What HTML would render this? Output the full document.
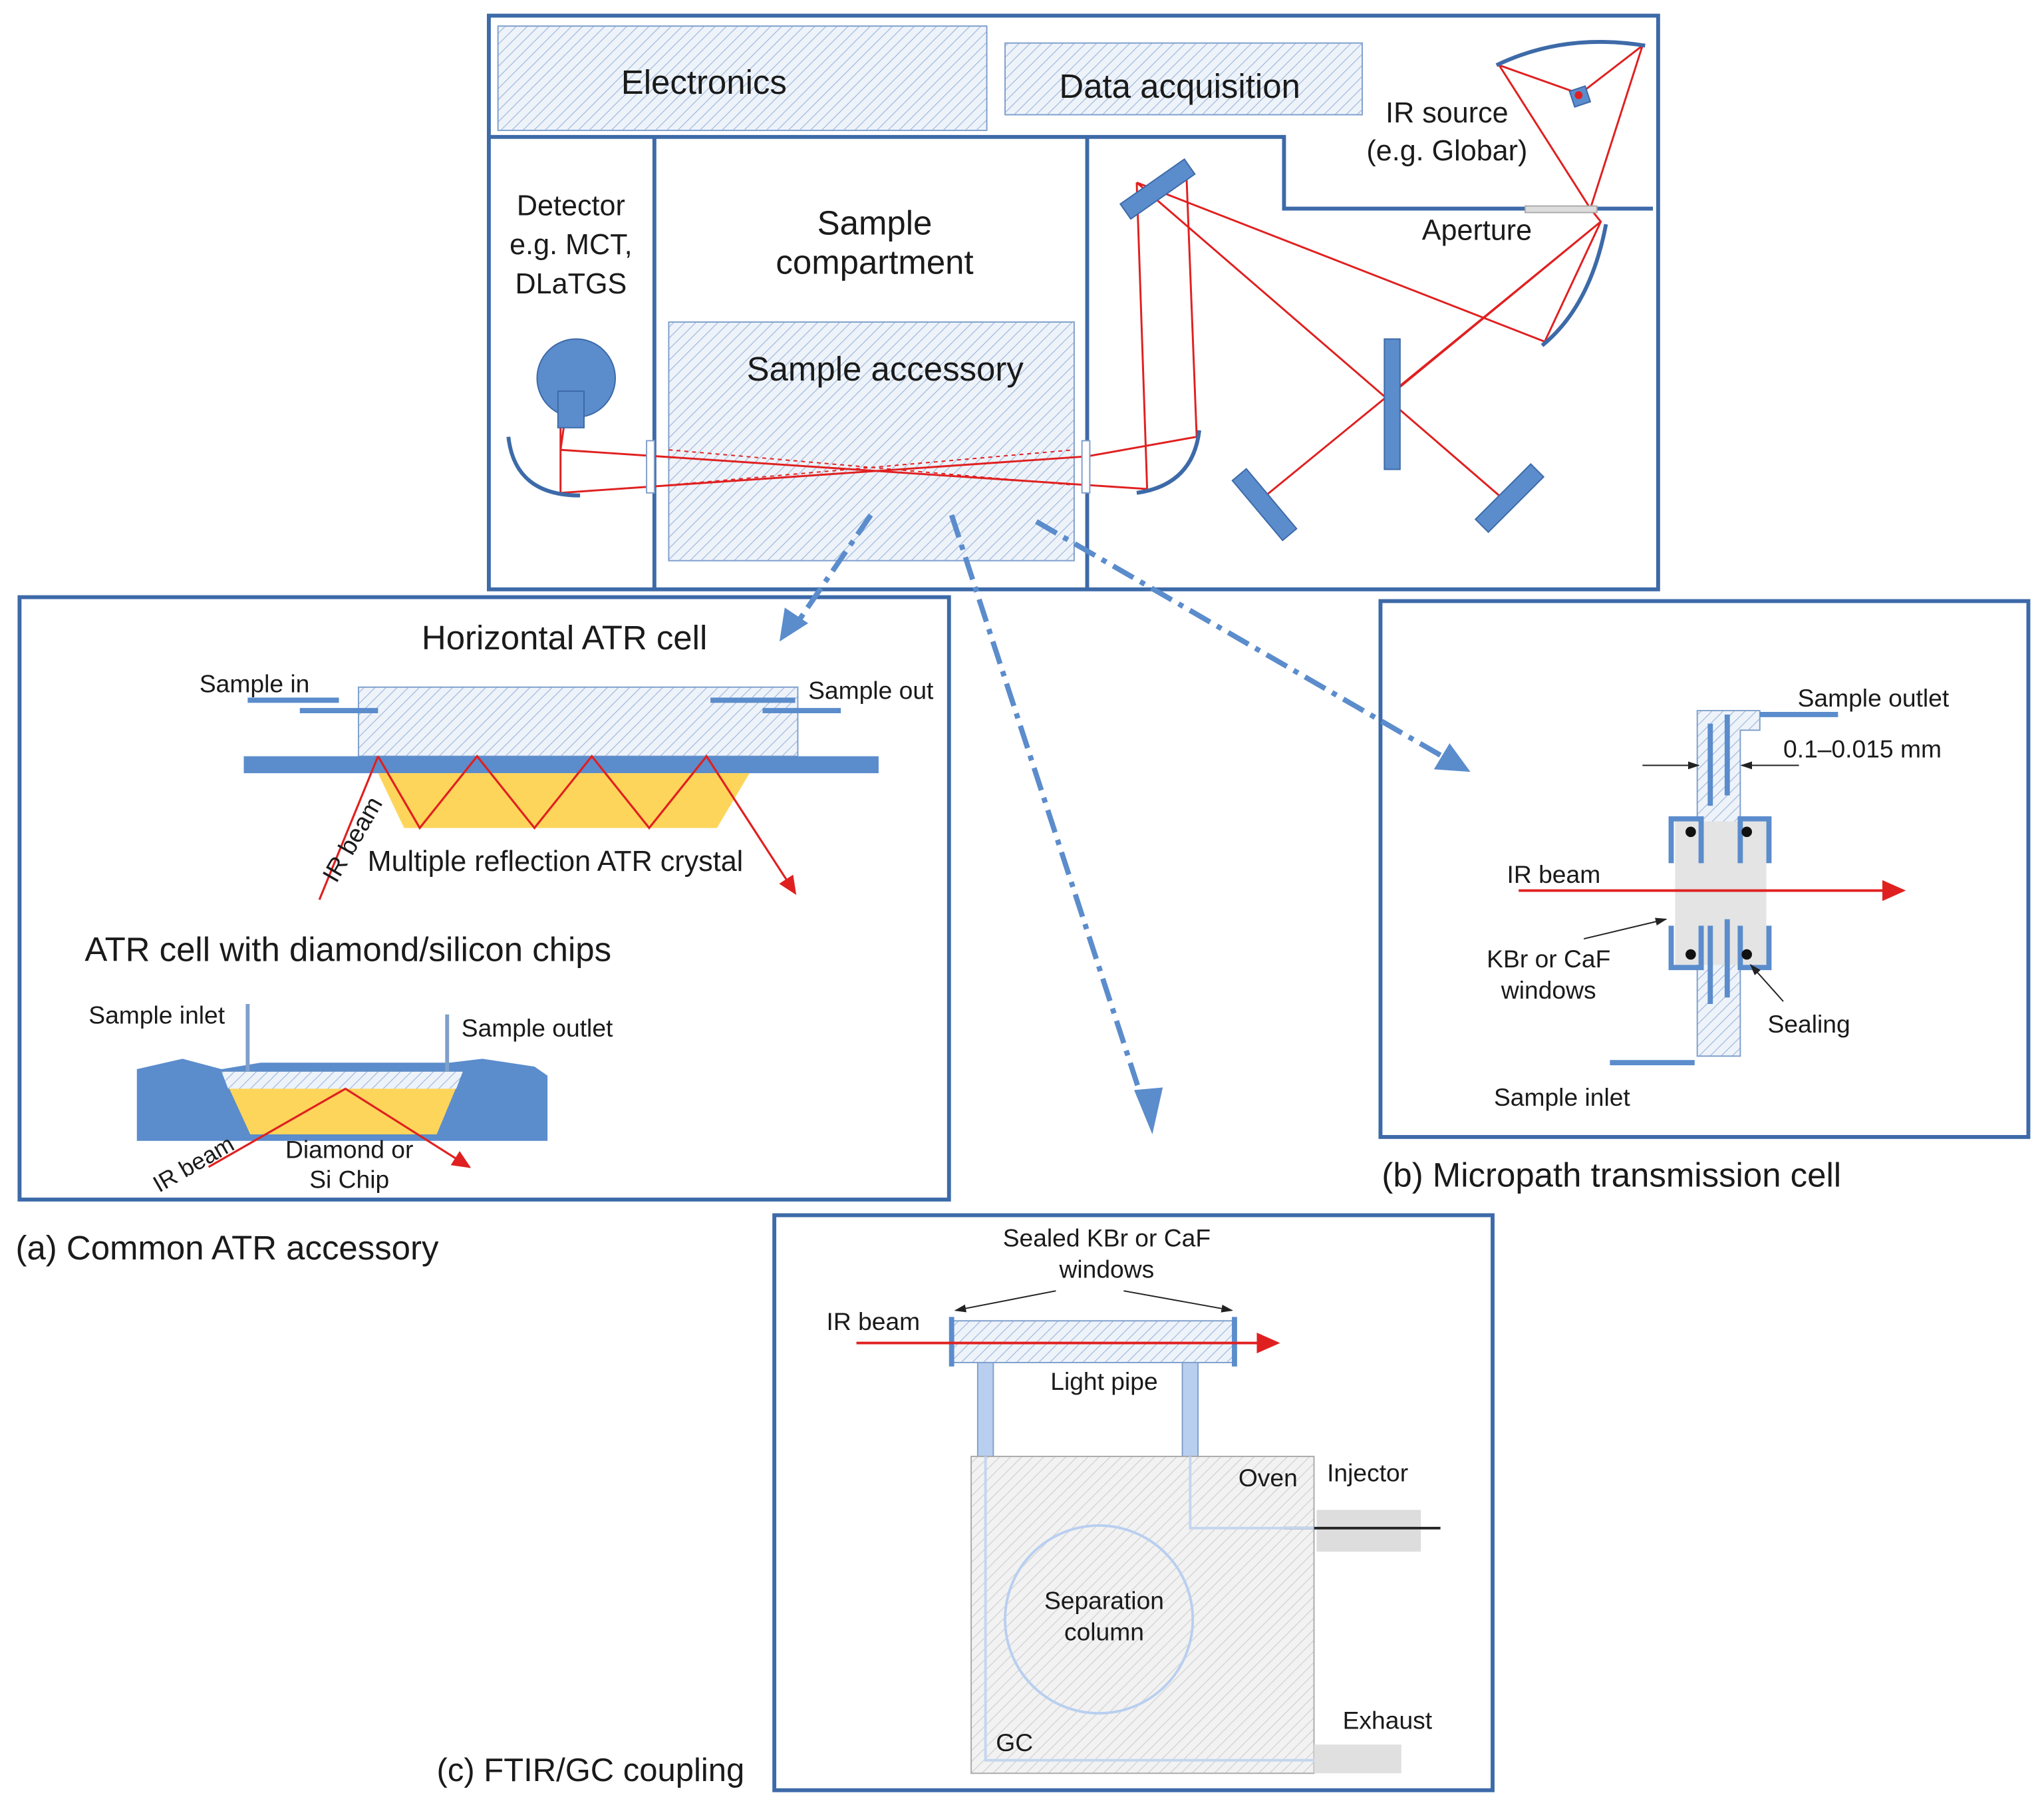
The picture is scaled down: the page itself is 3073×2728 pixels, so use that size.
<!DOCTYPE html>
<html><head><meta charset="utf-8"><style>
html,body{margin:0;padding:0;background:#fff}
svg{display:block}
text{font-family:"Liberation Sans",sans-serif;fill:#1a1a1a}
</style></head><body>
<svg width="3073" height="2728" viewBox="0 0 1568 1392" preserveAspectRatio="none" xmlns="http://www.w3.org/2000/svg">
<defs>
<pattern id="h" width="6" height="6" patternUnits="userSpaceOnUse" patternTransform="rotate(45)">
<rect width="6" height="6" fill="#eef3fa"/><line x1="0" y1="0" x2="0" y2="6" stroke="#9db8dc" stroke-width="1.2"/></pattern>
<pattern id="g" width="6" height="6" patternUnits="userSpaceOnUse" patternTransform="rotate(45)">
<rect width="6" height="6" fill="#f2f2f2"/><line x1="0" y1="0" x2="0" y2="6" stroke="#cfcfcf" stroke-width="1.2"/></pattern>
<marker id="ar" markerWidth="10" markerHeight="10" refX="8" refY="5" orient="auto"><path d="M0,1 L9,5 L0,9 Z" fill="#e02020"/></marker>
<marker id="ak" markerWidth="10" markerHeight="10" refX="8" refY="5" orient="auto"><path d="M0,2 L9,5 L0,8 Z" fill="#222"/></marker>
</defs>
<g stroke="#3d6aa8" stroke-width="3" fill="none">
<rect x="375" y="12" width="897" height="440"/>
<path d="M375,105 H985 V160 H1170 M1225,160 H1268"/>
<line x1="502" y1="105" x2="502" y2="452"/>
<line x1="834" y1="105" x2="834" y2="452"/>
<rect x="15" y="458" width="713" height="462"/>
<rect x="1059" y="461" width="497" height="411"/>
<rect x="594" y="932" width="551" height="441"/>
</g>
<rect x="382" y="20" width="375" height="80" fill="url(#h)" stroke="#7fa0cc"/>
<rect x="771" y="33" width="274" height="55" fill="url(#h)" stroke="#7fa0cc"/>
<rect x="513" y="247" width="311" height="183" fill="url(#h)" stroke="#7fa0cc"/>
<text x="540" y="72" font-size="26" text-anchor="middle">Electronics</text>
<text x="905" y="75" font-size="26" text-anchor="middle">Data acquisition</text>
<text x="1110" y="94" font-size="22" text-anchor="middle">IR source</text>
<text x="1110" y="123" font-size="22" text-anchor="middle">(e.g. Globar)</text>
<text x="1133" y="184" font-size="22" text-anchor="middle">Aperture</text>
<text x="438" y="165" font-size="22" text-anchor="middle">Detector</text>
<text x="438" y="195" font-size="22" text-anchor="middle">e.g. MCT,</text>
<text x="438" y="225" font-size="22" text-anchor="middle">DLaTGS</text>
<text x="671" y="180" font-size="26" text-anchor="middle">Sample</text>
<text x="671" y="210" font-size="26" text-anchor="middle">compartment</text>
<text x="679" y="292" font-size="26" text-anchor="middle">Sample accessory</text>
<!-- optics -->
<g stroke="#e02020" stroke-width="1.5" fill="none">
<path d="M1212,72 L1150,50 L1220,160 L1260,35 Z"/>
<path d="M1220,160 L1228,170 L1185,262 M1228,170 L965,385 M1185,262 L872,140 M872,140 L1150,380 M1228,170 L1070,300"/>
<path d="M872,140 L880,375 M910,130 L918,335 M918,335 L834,350 L430,378 M880,375 L834,372 L430,345"/>
<path d="M430,345 L435,310 M430,378 L430,320"/>
</g>
<g stroke="#e02020" stroke-width="1" stroke-dasharray="3,3" fill="none"><path d="M513,345 L824,372 M513,372 L824,345"/></g>
<g fill="#5b8ccc" stroke="#3d6aa8">
<rect x="858" y="138" width="60" height="14" transform="rotate(-35 888 145)"/>
<rect x="1062" y="260" width="12" height="100"/>
<rect x="940" y="380" width="60" height="14" transform="rotate(50 970 387)"/>
<rect x="1128" y="375" width="60" height="14" transform="rotate(-45 1158 382)"/>
<circle cx="442" cy="290" r="30"/>
<rect x="428" y="300" width="20" height="28"/>
<polygon points="1204,70 1216,66 1220,78 1208,82"/>
</g>
<circle cx="1211" cy="73" r="3" fill="#e02020"/>
<g stroke="#3d6aa8" stroke-width="3" fill="none">
<path d="M1148,50 Q1200,25 1262,35"/>
<path d="M1232,172 Q1220,235 1183,265"/>
<path d="M390,335 Q395,380 445,380"/>
<path d="M920,330 Q915,372 872,378"/>
</g>
<rect x="496" y="338" width="6" height="40" fill="#fff" stroke="#7fa0cc"/>
<rect x="830" y="338" width="6" height="40" fill="#fff" stroke="#7fa0cc"/>
<rect x="1170" y="158" width="55" height="5" fill="#ddd" stroke="#aaa"/>
<!-- dash-dot arrows -->
<g stroke="#5b8ccc" stroke-width="4" stroke-dasharray="18,6,4,6" fill="none">
<path d="M668,395 L610,480"/><path d="M730,395 L880,855"/><path d="M795,400 L1115,585"/>
</g>
<g fill="#5b8ccc"><path d="M598,492 L602,466 L620,478 Z"/><path d="M884,870 L870,836 L892,834 Z"/><path d="M1128,592 L1100,590 L1112,570 Z"/></g>
<!-- (a) -->
<text x="433" y="498" font-size="26" text-anchor="middle">Horizontal ATR cell</text>
<text x="153" y="531" font-size="19">Sample in</text>
<text x="620" y="536" font-size="19">Sample out</text>
<rect x="275" y="527" width="337" height="53" fill="url(#h)" stroke="#7fa0cc"/>
<rect x="187" y="580" width="487" height="13" fill="#5b8ccc"/>
<polygon points="290,593 575,593 550,635 310,635" fill="#fdd55a"/>
<polyline points="290,580 322,635 366,580 410,635 454,580 498,635 542,580 610,685" fill="none" stroke="#e02020" stroke-width="1.6" marker-end="url(#ar)"/>
<line x1="245" y1="690" x2="290" y2="580" stroke="#e02020" stroke-width="1.6"/>
<g stroke="#5b8ccc" stroke-width="4"><line x1="190" y1="537" x2="260" y2="537"/><line x1="230" y1="545" x2="290" y2="545"/><line x1="545" y1="537" x2="610" y2="537"/><line x1="585" y1="545" x2="645" y2="545"/></g>
<text x="258" y="678" font-size="19" transform="rotate(-60 258 678)">IR beam</text>
<text x="282" y="668" font-size="22">Multiple reflection ATR crystal</text>
<text x="65" y="737" font-size="26">ATR cell with diamond/silicon chips</text>
<text x="68" y="785" font-size="19">Sample inlet</text>
<text x="354" y="795" font-size="19">Sample outlet</text>
<path d="M105,820 L140,812 L170,820 L200,815 L345,815 L370,812 L410,818 L420,825 L420,875 L105,875 Z" fill="#5b8ccc"/>
<polygon points="170,822 355,822 335,870 192,870" fill="#fdd55a"/>
<polygon points="170,822 355,822 350,835 175,835" fill="url(#h)"/>
<g stroke="#7fa0cc" stroke-width="3"><line x1="190" y1="770" x2="190" y2="822"/><line x1="343" y1="778" x2="343" y2="822"/></g>
<polyline points="160,895 265,835 360,895" fill="none" stroke="#e02020" stroke-width="1.6" marker-end="url(#ar)"/>
<text x="122" y="915" font-size="18" transform="rotate(-30 122 915)">IR beam</text>
<text x="268" y="888" font-size="19" text-anchor="middle">Diamond or</text>
<text x="268" y="911" font-size="19" text-anchor="middle">Si Chip</text>
<text x="12" y="966" font-size="26">(a) Common ATR accessory</text>
<!-- (b) -->
<text x="1379" y="542" font-size="19">Sample outlet</text>
<text x="1368" y="581" font-size="19">0.1–0.015 mm</text>
<path d="M1302,545 H1350 V560 H1335 V810 H1302 Z" fill="url(#h)" stroke="#7fa0cc"/>
<rect x="1285" y="630" width="70" height="110" fill="#e4e4e4"/>
<g stroke="#5b8ccc" stroke-width="4" fill="none">
<path d="M1305,662 V628 H1282 V662 M1335,662 V628 H1357 V662"/>
<path d="M1305,710 V742 H1282 V710 M1335,710 V742 H1357 V710"/>
<line x1="1312" y1="555" x2="1312" y2="618"/><line x1="1325" y1="548" x2="1325" y2="610"/>
<line x1="1312" y1="710" x2="1312" y2="770"/><line x1="1325" y1="705" x2="1325" y2="765"/>
<line x1="1350" y1="548" x2="1410" y2="548"/><line x1="1235" y1="815" x2="1300" y2="815"/>
</g>
<g fill="#111"><circle cx="1297" cy="638" r="4"/><circle cx="1340" cy="638" r="4"/><circle cx="1297" cy="732" r="4"/><circle cx="1340" cy="732" r="4"/></g>
<line x1="1260" y1="587" x2="1303" y2="587" stroke="#222" marker-end="url(#ak)"/>
<line x1="1380" y1="587" x2="1336" y2="587" stroke="#222" marker-end="url(#ak)"/>
<line x1="1165" y1="683" x2="1460" y2="683" stroke="#e02020" stroke-width="2" marker-end="url(#ar)"/>
<text x="1156" y="677" font-size="19">IR beam</text>
<line x1="1215" y1="720" x2="1278" y2="705" stroke="#222" marker-end="url(#ak)"/>
<text x="1188" y="742" font-size="19" text-anchor="middle">KBr or CaF</text>
<text x="1188" y="766" font-size="19" text-anchor="middle">windows</text>
<line x1="1368" y1="768" x2="1343" y2="740" stroke="#222" marker-end="url(#ak)"/>
<text x="1356" y="792" font-size="19">Sealing</text>
<text x="1146" y="848" font-size="19">Sample inlet</text>
<text x="1060" y="910" font-size="26">(b) Micropath transmission cell</text>
<!-- (c) -->
<text x="849" y="956" font-size="19" text-anchor="middle">Sealed KBr or CaF</text>
<text x="849" y="980" font-size="19" text-anchor="middle">windows</text>
<line x1="810" y1="990" x2="733" y2="1005" stroke="#222" marker-end="url(#ak)"/>
<line x1="862" y1="990" x2="945" y2="1005" stroke="#222" marker-end="url(#ak)"/>
<rect x="730" y="1013" width="217" height="32" fill="url(#h)" stroke="#7fa0cc"/>
<g stroke="#5b8ccc" stroke-width="4"><line x1="730" y1="1010" x2="730" y2="1048"/><line x1="947" y1="1010" x2="947" y2="1048"/></g>
<line x1="657" y1="1030" x2="980" y2="1030" stroke="#e02020" stroke-width="2" marker-end="url(#ar)"/>
<text x="634" y="1020" font-size="19">IR beam</text>
<text x="847" y="1066" font-size="19" text-anchor="middle">Light pipe</text>
<g fill="#b9cff0" stroke="#7fa0cc"><rect x="750" y="1045" width="12" height="72"/><rect x="907" y="1045" width="12" height="72"/></g>
<rect x="745" y="1117" width="263" height="243" fill="url(#g)" stroke="#aaa"/>
<rect x="1008" y="1338" width="67" height="22" fill="#e0e0e0"/>
<rect x="1010" y="1158" width="80" height="32" fill="#ddd"/>
<line x1="985" y1="1172" x2="1105" y2="1172" stroke="#222" stroke-width="2"/>
<circle cx="843" cy="1242" r="72" fill="none" stroke="#b9cff0" stroke-width="2"/>
<path d="M756,1117 V1350 H1008 M913,1117 V1172 H1008" fill="none" stroke="#c4d6ef" stroke-width="2"/>
<text x="950" y="1140" font-size="19">Oven</text>
<text x="1018" y="1136" font-size="19">Injector</text>
<text x="847" y="1234" font-size="19" text-anchor="middle">Separation</text>
<text x="847" y="1258" font-size="19" text-anchor="middle">column</text>
<text x="1030" y="1326" font-size="19">Exhaust</text>
<text x="764" y="1343" font-size="19">GC</text>
<text x="335" y="1366" font-size="25">(c) FTIR/GC coupling</text>
</svg>
</body></html>
